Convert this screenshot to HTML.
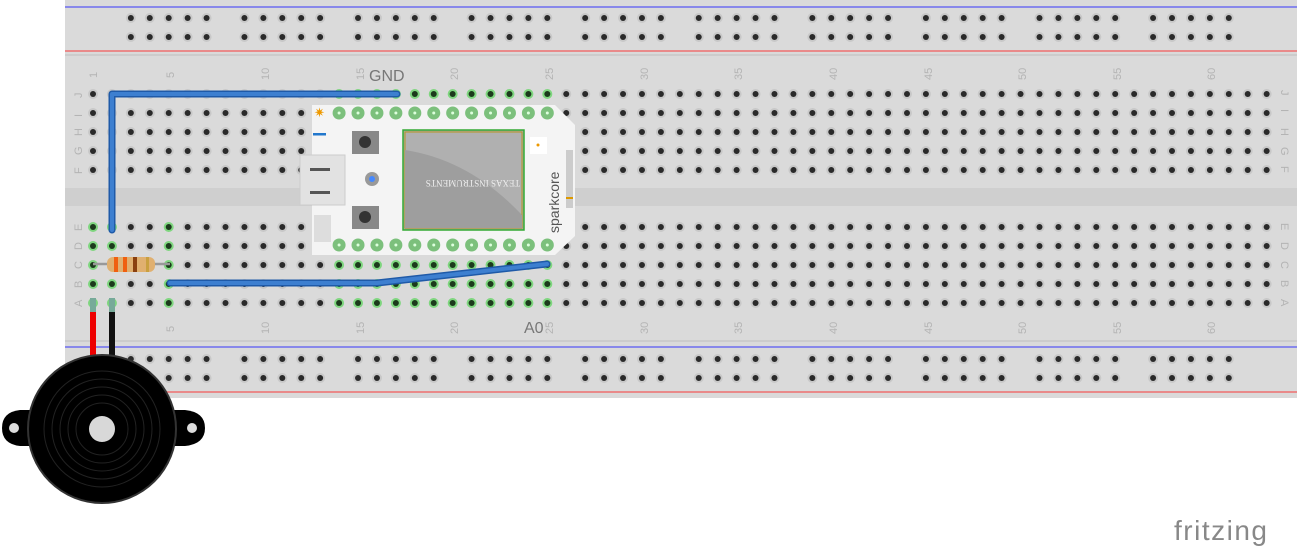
<!DOCTYPE html>
<html><head><meta charset="utf-8"><style>
html,body{margin:0;padding:0;background:#fff;width:1300px;height:551px;overflow:hidden}
svg{display:block}
.cl{font-family:"Liberation Sans",sans-serif;font-size:11px;fill:#b4b4b4}
.lb{font-family:"Liberation Sans",sans-serif;font-size:16px;fill:#777}
</style></head><body>
<svg id="s" width="1300" height="551" viewBox="0 0 1300 551" xmlns="http://www.w3.org/2000/svg">
<rect x="65" y="0" width="1232" height="398" fill="#dadada"/>
<line x1="65" y1="7" x2="1297" y2="7" stroke="#6d6df0" stroke-width="1.5"/>
<line x1="65" y1="51" x2="1297" y2="51" stroke="#ee7070" stroke-width="1.5"/>
<line x1="65" y1="55" x2="1297" y2="55" stroke="#c8c8c8" stroke-width="1.5"/>
<rect x="65" y="188" width="1232" height="18" fill="#cfcfcf"/>
<line x1="65" y1="341" x2="1297" y2="341" stroke="#c8c8c8" stroke-width="1.5"/>
<line x1="65" y1="347" x2="1297" y2="347" stroke="#6d6df0" stroke-width="1.5"/>
<line x1="65" y1="392" x2="1297" y2="392" stroke="#ee7070" stroke-width="1.5"/>
<g id="holes"></g>
<g class="cl">
<text transform="translate(97,78) rotate(-90)">1</text>
<text transform="translate(174,78) rotate(-90)">5</text>
<text transform="translate(269,80) rotate(-90)">10</text>
<text transform="translate(364,80) rotate(-90)">15</text>
<text transform="translate(458,80) rotate(-90)">20</text>
<text transform="translate(553,80) rotate(-90)">25</text>
<text transform="translate(648,80) rotate(-90)">30</text>
<text transform="translate(742,80) rotate(-90)">35</text>
<text transform="translate(837,80) rotate(-90)">40</text>
<text transform="translate(932,80) rotate(-90)">45</text>
<text transform="translate(1026,80) rotate(-90)">50</text>
<text transform="translate(1121,80) rotate(-90)">55</text>
<text transform="translate(1215,80) rotate(-90)">60</text>
<text transform="translate(174,332) rotate(-90)">5</text>
<text transform="translate(269,334) rotate(-90)">10</text>
<text transform="translate(364,334) rotate(-90)">15</text>
<text transform="translate(458,334) rotate(-90)">20</text>
<text transform="translate(553,334) rotate(-90)">25</text>
<text transform="translate(648,334) rotate(-90)">30</text>
<text transform="translate(742,334) rotate(-90)">35</text>
<text transform="translate(837,334) rotate(-90)">40</text>
<text transform="translate(932,334) rotate(-90)">45</text>
<text transform="translate(1026,334) rotate(-90)">50</text>
<text transform="translate(1121,334) rotate(-90)">55</text>
<text transform="translate(1215,334) rotate(-90)">60</text>
<text transform="translate(82,98) rotate(-90)">J</text><text transform="translate(82,117) rotate(-90)">I</text><text transform="translate(82,136) rotate(-90)">H</text><text transform="translate(82,155) rotate(-90)">G</text><text transform="translate(82,174) rotate(-90)">F</text>
<text transform="translate(82,231) rotate(-90)">E</text><text transform="translate(82,250) rotate(-90)">D</text><text transform="translate(82,269) rotate(-90)">C</text><text transform="translate(82,288) rotate(-90)">B</text><text transform="translate(82,307) rotate(-90)">A</text>
<text transform="translate(1281,90) rotate(90)">J</text><text transform="translate(1281,109) rotate(90)">I</text><text transform="translate(1281,128) rotate(90)">H</text><text transform="translate(1281,147) rotate(90)">G</text><text transform="translate(1281,166) rotate(90)">F</text>
<text transform="translate(1281,223) rotate(90)">E</text><text transform="translate(1281,242) rotate(90)">D</text><text transform="translate(1281,261) rotate(90)">C</text><text transform="translate(1281,280) rotate(90)">B</text><text transform="translate(1281,299) rotate(90)">A</text>
</g>
<text class="lb" x="369" y="81">GND</text>
<text class="lb" x="524" y="333">A0</text>
<!-- spark core -->
<path d="M312,105 H555 L575,125 V236 L555,255 H312 Z" fill="#f4f4f4"/>
<rect x="300" y="155" width="45" height="50" fill="#e2e2e2" stroke="#ccc"/>
<rect x="310" y="168" width="20" height="3" fill="#555"/><rect x="310" y="191" width="20" height="3" fill="#555"/>
<rect x="352" y="131" width="27" height="23" fill="#888"/><circle cx="365" cy="142" r="6" fill="#333"/>
<rect x="352" y="206" width="27" height="23" fill="#888"/><circle cx="365" cy="217" r="6" fill="#333"/>
<circle cx="372" cy="179" r="7" fill="#999"/><circle cx="372" cy="179" r="3" fill="#48f"/>
<rect x="314" y="215" width="17" height="27" fill="#ddd"/>
<rect x="403" y="130" width="121" height="100" fill="#aaa" stroke="#3a3" stroke-width="1.5"/>
<rect x="405" y="132" width="117" height="96" fill="#b0b0b0" stroke="#b8941f" stroke-width="1"/>
<path d="M405,150 Q470,160 522,215 V228 H405 Z" fill="#9e9e9e"/>
<text transform="translate(520,180) rotate(180)" font-family="Liberation Serif" font-size="9" fill="#eee">TEXAS INSTRUMENTS</text>
<rect x="530" y="137" width="17" height="17" fill="#fff"/><circle cx="538" cy="145" r="1.5" fill="#e90"/>
<rect x="566" y="150" width="7" height="58" fill="#ccc"/><rect x="566" y="197" width="7" height="2" fill="#d90"/>
<text transform="translate(559,233) rotate(-90)" font-family="Liberation Sans" font-size="14" fill="#555">sparkcore</text>
<text x="314" y="117" font-size="13" fill="#e90">✷</text>
<rect x="313" y="133" width="13" height="2.5" fill="#27c"/>
<g id="pins"></g>
<!-- resistor -->
<line x1="93" y1="264" x2="170" y2="264" stroke="#999" stroke-width="2.5"/>
<rect x="107" y="257" width="48" height="15" rx="6" fill="#e0b070"/>
<rect x="114" y="257" width="4" height="15" fill="#f06010"/><rect x="123" y="257" width="4" height="15" fill="#f06010"/><rect x="133" y="257" width="4" height="15" fill="#8a4010"/><rect x="146" y="257" width="3" height="15" fill="#c9a040"/>
<!-- wires -->
<g fill="none" stroke-linecap="round" stroke-linejoin="round">
<polyline points="112,230 112,94 397,94" stroke="#1f5aa8" stroke-width="7"/>
<polyline points="112,230 112,94 397,94" stroke="#3d7fd0" stroke-width="4"/>
<polyline points="170,283 377,283 547,264" stroke="#1f5aa8" stroke-width="7"/>
<polyline points="170,283 377,283 547,264" stroke="#3d7fd0" stroke-width="4"/>
</g>
<line x1="93" y1="304" x2="93" y2="360" stroke="#e00" stroke-width="6"/>
<line x1="112" y1="304" x2="112" y2="360" stroke="#111" stroke-width="6"/>
<rect x="90" y="298" width="6" height="14" fill="#7a9"/><rect x="109" y="298" width="6" height="14" fill="#7a9"/>
<!-- buzzer -->
<path d="M20,410 Q2,412 2,428 Q2,444 20,446 L60,446 L60,410 Z" fill="#000"/>
<path d="M185,410 Q205,412 205,428 Q205,444 185,446 L145,446 L145,410 Z" fill="#000"/>
<circle cx="14" cy="428" r="5" fill="#ddd"/><circle cx="192" cy="428" r="5" fill="#ddd"/>
<circle cx="102" cy="429" r="74" fill="#000" stroke="#333" stroke-width="2"/>
<g fill="none" stroke="#222" stroke-width="1"><circle cx="102" cy="429" r="58"/><circle cx="102" cy="429" r="50"/><circle cx="102" cy="429" r="42"/><circle cx="102" cy="429" r="34"/><circle cx="102" cy="429" r="26"/></g>
<circle cx="102" cy="429" r="13" fill="#d8d8d8"/>
<text x="1174" y="540" font-family="Liberation Sans" font-size="28" fill="#888" letter-spacing="1.5">fritzing</text>
</svg>
<script>
var ns="http://www.w3.org/2000/svg",H=document.getElementById("holes"),P=document.getElementById("pins");
function X(c){return 93+(c-1)*18.93}
function hole(x,y,g,par){var a=document.createElementNS(ns,"circle");a.setAttribute("cx",x);a.setAttribute("cy",y);a.setAttribute("r",5);a.setAttribute("fill",g?"#7fd67f":"#c8c8c8");par.appendChild(a);
var b=document.createElementNS(ns,"circle");b.setAttribute("cx",x);b.setAttribute("cy",y);b.setAttribute("r",3);b.setAttribute("fill",g?"#1c3a1c":"#2a2a2a");par.appendChild(b);}
var rowsT=[94,113,132,151,170],rowsB=[227,246,265,284,303];
for(var c=1;c<=63;c++){for(var r=0;r<5;r++){
 var gt=(r==0&&c>=14&&c<=25);hole(X(c),rowsT[r],gt,H);
 var gb=(c==1||c==2||c==5)||(r>=2&&c>=14&&c<=25);hole(X(c),rowsB[r],gb,H);}}
for(var k=0;k<10;k++)for(var j=0;j<5;j++){var cc=3+6*k+j;[18,37,359,378].forEach(function(y){hole(X(cc),y,false,H)});}
for(var c2=14;c2<=25;c2++)[113,245].forEach(function(y){var a=document.createElementNS(ns,"circle");a.setAttribute("cx",X(c2));a.setAttribute("cy",y);a.setAttribute("r",6.5);a.setAttribute("fill","#7cc07c");P.appendChild(a);var b=document.createElementNS(ns,"circle");b.setAttribute("cx",X(c2));b.setAttribute("cy",y);b.setAttribute("r",1.5);b.setAttribute("fill","#dfd");P.appendChild(b);});
</script>
</body></html>
